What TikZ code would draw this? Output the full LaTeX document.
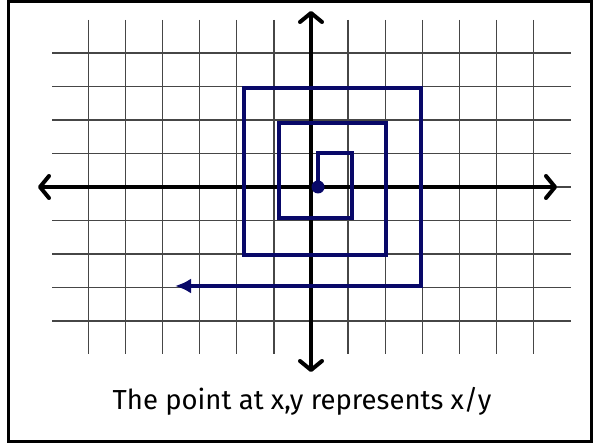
\documentclass[tikz,border=0pt]{standalone}
\usepackage{fontspec}
\setmainfont{Fira Sans}
\usetikzlibrary{arrows.meta}
\definecolor{spiral}{RGB}{8,8,104}
\definecolor{gridc}{RGB}{70,70,70}
\tikzset{
  gridline/.style={draw=gridc,line width=1.3pt},
  axisline/.style={draw=black,line width=4pt,{Straight Barb[length=9pt,width=22pt,round]}-{Straight Barb[length=9pt,width=22pt,round]}},
  spiralline/.style={draw=spiral,line width=4.2pt,line join=miter},
  frameline/.style={draw=black,line width=3pt}
}
\begin{document}
\begin{tikzpicture}[x=1pt,y=-1pt]
\useasboundingbox (0,0) rectangle (593,443);
\draw[frameline] (8.5,1.5) rectangle (591.5,441.5);
% grid
\foreach \k in {-6,...,6} {
  \draw[gridline] ({311+37.1*\k},20) -- ({311+37.1*\k},354);
}
\foreach \k in {-4,...,4} {
  \draw[gridline] (52,{187+33.5*\k}) -- (571,{187+33.5*\k});
}
% axes
\coordinate (xl) at (38,187);
\coordinate (xr) at (557,187);
\coordinate (yt) at (311,11);
\coordinate (yb) at (311,372);
\draw[axisline] (xl) -- (xr);
\draw[axisline] (yt) -- (yb);
% spiral
\coordinate (s0) at (318,187);
\coordinate (s1) at (318,153);
\coordinate (s2) at (352,153);
\coordinate (s3) at (352,218);
\coordinate (s4) at (279,218);
\coordinate (s5) at (279,123);
\coordinate (s6) at (386,123);
\coordinate (s7) at (386,255);
\coordinate (s8) at (244,255);
\coordinate (s9) at (244,88);
\coordinate (s10) at (421,88);
\coordinate (s11) at (421,286);
\coordinate (s12) at (175,286);
\draw[spiralline,-{Latex[length=16pt,width=15pt]}] (s0) -- (s1) -- (s2) -- (s3) -- (s4) -- (s5) -- (s6) -- (s7) -- (s8) -- (s9) -- (s10) -- (s11) -- (s12);
\fill[spiral] (s0) circle (6.5);
% caption
\node[anchor=base,font=\fontsize{27.5}{32}\selectfont] (cap) at (302,409) {The point at x,y represents x/y};
\end{tikzpicture}
\end{document}
